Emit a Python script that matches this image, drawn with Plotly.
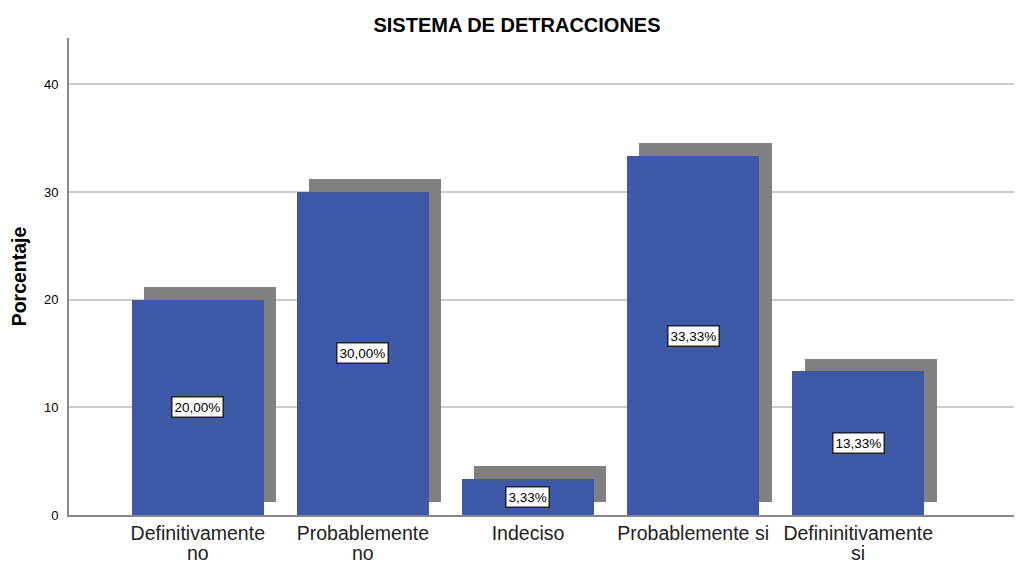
import plotly.graph_objects as go

categorias = ["Definitivamente<br>no", "Probablemente<br>no", "Indeciso",
              "Probablemente si", "Defininitivamente<br>si"]
porcentajes = [20.00, 30.00, 3.33, 33.33, 13.33]
etiquetas = [f"{v:.2f}".replace(".", ",") + "%" for v in porcentajes]

pos = list(range(len(categorias)))
sombra_dx = 0.075
sombra_dy = 1.2

fig = go.Figure()
# sombra gris desplazada
fig.add_trace(go.Bar(
    x=[p + sombra_dx for p in pos], y=porcentajes, base=sombra_dy,
    width=0.8, marker=dict(color="#808080", line=dict(width=0)),
    hoverinfo="skip", showlegend=False,
))
fig.add_trace(go.Bar(
    x=pos, y=porcentajes, width=0.8,
    marker=dict(color="#3E58A8", line=dict(width=0)),
    showlegend=False,
))

for p, v, t in zip(pos, porcentajes, etiquetas):
    fig.add_annotation(x=p, y=v / 2, text=t, showarrow=False,
                       font=dict(family="Liberation Sans, Arial", size=13.5, color="black"),
                       bgcolor="white", bordercolor="#222222", borderwidth=1.5, borderpad=2)

# primera línea como tick, segunda línea como anotación (interlineado más compacto)
primera = [c.split("<br>")[0] for c in categorias]
for p, c in zip(pos, categorias):
    partes = c.split("<br>")
    if len(partes) > 1:
        fig.add_annotation(x=p, y=0, text=partes[1], showarrow=False, yanchor="middle",
                           yshift=-38, font=dict(family="Liberation Sans, Arial", size=19.5,
                                                 color="#222222"))

# la página tiene 8px de margen en el body
fig.update_layout(
    width=1014, height=554,
    margin=dict(l=61, r=2, t=30, b=47),
    paper_bgcolor="white", plot_bgcolor="white",
    barmode="overlay", bargap=0,
    font=dict(family="Liberation Sans, Arial", color="#222222"),
    title=dict(text="<b>SISTEMA DE DETRACCIONES</b>", x=509 / 1014, xanchor="center",
               y=1 - 17 / 554, yanchor="middle", font=dict(size=20, color="black")),
)
fig.update_xaxes(
    range=[-0.78, 4.98], tickvals=pos, ticktext=primera, automargin=False,
    tickfont=dict(size=19.5, color="#222222"), showgrid=False, zeroline=False,
    showline=True, linecolor="#888888", linewidth=2, ticks="",
)
fig.update_yaxes(
    range=[0, 44.3], tickvals=[0, 10, 20, 30, 40], automargin=False,
    tickfont=dict(size=13, color="black"), showgrid=True, gridcolor="#cccccc",
    gridwidth=1.5, zeroline=False, showline=True, linecolor="#888888", linewidth=2,
    ticks="", ticklabelstandoff=6,
    title=dict(text="<b>Porcentaje</b>", font=dict(size=19.5, color="black"), standoff=18),
)

fig.write_html("out.html")
